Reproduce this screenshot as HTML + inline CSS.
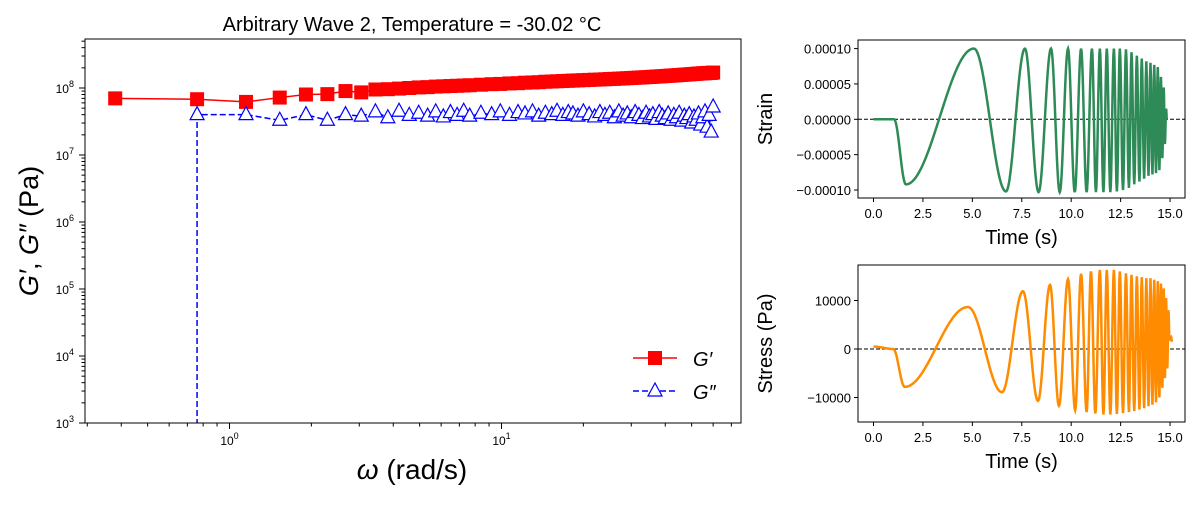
<!DOCTYPE html>
<html><head><meta charset="utf-8"><style>
body{margin:0;background:#fff}
svg text{font-family:"Liberation Sans","DejaVu Sans",sans-serif;fill:#000}
</style></head><body>
<svg id="svg" width="1200" height="500" xmlns="http://www.w3.org/2000/svg"></svg>
<script>
// ---- Main chart data ----
const omega=[0.38,0.76,1.15,1.53,1.91,2.29,2.67,3.05,3.44,3.82,4.2,4.58,4.96,5.35,5.73,6.11,6.49,6.87,7.26,7.64,8.4,9.2,9.9,10.7,11.5,12.2,13,13.7,14.5,15.3,16,16.8,17.6,18.3,19.1,20,21,22,23,24,25,26,27,28,29,30,31,32,33,34,35,36,37,38,39,40,41,42,43,44,45,46,47,48,49,50,51,52,53,54,55,56,57,58,59,60];
const gPrime=[7e7,6.8e7,6.2e7,7.2e7,8e7,8.1e7,9e7,8.6e7,9.5e7,9.6e7,9.8e7,1e8,1.02e8,1.03e8,1.05e8,1.06e8,1.07e8,1.08e8,1.09e8,1.1e8,1.12e8,1.14e8,1.15e8,1.17e8,1.18e8,1.2e8,1.21e8,1.22e8,1.24e8,1.25e8,1.26e8,1.27e8,1.28e8,1.29e8,1.3e8,1.31e8,1.32e8,1.33e8,1.34e8,1.35e8,1.36e8,1.37e8,1.38e8,1.39e8,1.4e8,1.41e8,1.42e8,1.43e8,1.44e8,1.45e8,1.46e8,1.47e8,1.48e8,1.49e8,1.5e8,1.51e8,1.52e8,1.53e8,1.54e8,1.55e8,1.56e8,1.57e8,1.58e8,1.59e8,1.6e8,1.61e8,1.62e8,1.63e8,1.64e8,1.65e8,1.66e8,1.66e8,1.67e8,1.68e8,1.68e8,1.7e8];
const gDouble=[-1e7,4e7,4e7,3.3e7,4e7,3.3e7,4e7,3.8e7,4.4e7,3.6e7,4.5e7,3.9e7,4.2e7,3.8e7,4.4e7,3.7e7,4.3e7,3.9e7,4.5e7,3.8e7,4.2e7,4e7,4.4e7,3.9e7,4.3e7,4.1e7,4.4e7,3.8e7,4.2e7,4e7,4.5e7,3.9e7,4.3e7,4.1e7,3.8e7,4.4e7,4e7,3.7e7,4.3e7,3.9e7,4.2e7,3.6e7,4.4e7,3.8e7,4.1e7,3.6e7,4.3e7,3.9e7,3.5e7,4.2e7,3.7e7,4e7,3.4e7,4.3e7,3.8e7,3.5e7,4.1e7,3.3e7,3.9e7,3.6e7,4.2e7,3.2e7,3.8e7,3.5e7,4e7,3e7,3.7e7,3.3e7,4.1e7,2.8e7,3.6e7,4.4e7,2.6e7,3.9e7,2.2e7,5.2e7];
const xTickExp=[0,1];
const yTickExp=[3,4,5,6,7,8];
// ---- Time series extrema ----
const strainT=[0,1.04,1.64,5.08,6.7,7.66,8.35,8.98,9.42,9.84,10.18,10.5,10.78,11.05,11.25,11.45,11.63,11.8,11.98,12.16,12.31,12.46,12.62,12.77,12.92,13.05,13.19,13.32,13.45,13.57,13.69,13.8,13.91,14.01,14.11,14.2,14.29,14.38,14.46,14.54,14.61,14.68,14.74,14.8,14.84];
const strainV=[0,0,-0.92e-4,1.0e-4,-1.02e-4,1.0e-4,-1.03e-4,1.0e-4,-1.03e-4,1.0e-4,-1.03e-4,1.0e-4,-1.03e-4,1.0e-4,-1.03e-4,1.0e-4,-1.03e-4,1.0e-4,-1.03e-4,1.0e-4,-1.02e-4,1.0e-4,-1.0e-4,0.99e-4,-0.97e-4,0.95e-4,-0.92e-4,0.9e-4,-0.88e-4,0.86e-4,-0.84e-4,0.82e-4,-0.8e-4,0.8e-4,-0.78e-4,0.77e-4,-0.76e-4,0.74e-4,-0.72e-4,0.6e-4,-0.55e-4,0.45e-4,-0.35e-4,0.15e-4,0];
const stressT=[0,1.0,1.58,4.78,6.5,7.56,8.32,8.93,9.38,9.84,10.2,10.5,10.78,11.0,11.22,11.45,11.63,11.8,11.98,12.16,12.31,12.46,12.62,12.77,12.92,13.05,13.19,13.32,13.45,13.57,13.69,13.8,13.91,14.01,14.11,14.2,14.29,14.38,14.46,14.54,14.61,14.68,14.74,14.8,14.86,14.92,14.97,15.05,15.1];
const stressV=[500,0,-7800,8650,-8900,11900,-10700,13200,-11700,14400,-12600,15500,-13000,16000,-13300,16300,-13500,16300,-13500,16300,-13400,16000,-13200,15600,-13000,15300,-12800,15000,-12500,14800,-12200,14600,-11800,14600,-11500,14300,-11000,14000,-10000,13500,-8000,12500,-6000,10500,-4000,8000,2000,2500,1500];
const timeTicks=[0,2.5,5,7.5,10,12.5,15];
const strainTicks=[0.0001,0.00005,0,-0.00005,-0.0001];
const stressTicks=[10000,0,-10000];

const svg=document.getElementById('svg');
const NS='http://www.w3.org/2000/svg';
function el(tag,attrs,parent){const e=document.createElementNS(NS,tag);for(const k in attrs)e.setAttribute(k,attrs[k]);(parent||svg).appendChild(e);return e;}

// ---- main axes ----
const M={l:85,r:741,t:39,b:423};
const xs=w=>229.5+272*Math.log10(w);
const ys=v=>423-67*(Math.log10(v)-3);
const gMain=el('g',{});


const clip=el('clipPath',{id:'cm'});el('rect',{x:M.l,y:M.t,width:M.r-M.l,height:M.b-M.t},clip);
const t1=el('text',{x:412,y:31,'font-size':20,'text-anchor':'middle'},gMain);t1.textContent='Arbitrary Wave 2, Temperature = -30.02 °C';

for(let e=-1;e<=1;e++)for(let m=1;m<10;m++){const v=m*Math.pow(10,e);const x=xs(v);if(x<M.l||x>M.r)continue;
 el('line',{x1:x,x2:x,y1:M.b,y2:M.b+(m==1?6:3.5),stroke:'#000','stroke-width':1},gMain);}
xTickExp.forEach(e=>{const t=el('text',{x:xs(Math.pow(10,e)),y:445,'font-size':12,'text-anchor':'middle'},gMain);
 
 t.innerHTML='10<tspan dy="-6" font-size="9">'+e+'</tspan>';});
for(let e=3;e<9;e++)for(let m=1;m<10;m++){const v=m*Math.pow(10,e);const y=ys(v);if(y<M.t)continue;
 el('line',{x1:M.l,x2:M.l-(m==1?6:3.5),y1:y,y2:y,stroke:'#000','stroke-width':1},gMain);}
yTickExp.forEach(e=>{const t=el('text',{x:74,y:ys(Math.pow(10,e))+5,'font-size':12,'text-anchor':'end'},gMain);
 
 t.innerHTML='10<tspan dy="-6" font-size="9">'+e+'</tspan>';});
const xl=el('text',{x:412,y:479,'font-size':28,'text-anchor':'middle'},gMain);xl.innerHTML='<tspan font-style="italic">ω</tspan> (rad/s)';

const yl=el('text',{x:0,y:0,'font-size':27,'text-anchor':'middle',transform:'translate(38,231) rotate(-90)'},gMain);
yl.innerHTML='<tspan font-style="italic">G′</tspan>, <tspan font-style="italic">G″</tspan> (Pa)';

const gs=el('g',{'clip-path':'url(#cm)'},gMain);
const p1=omega.map((w,i)=>xs(w)+','+ys(gPrime[i])).join(' ');
const l1=el('polyline',{points:p1,fill:'none',stroke:'#f00','stroke-width':1.5},gs);

// G'' line: non-positive values drop to the bottom (log clip)
let d2='';
omega.forEach((w,i)=>{const v=gDouble[i];
 if(v<=0){return;}
 const x=xs(w),y=ys(v);
 if(i==0||gDouble[i-1]<=0){d2+=`M${x},${M.b+20}L${x},${y}`;}else d2+=`L${x},${y}`;});
const l2=el('path',{d:d2,fill:'none',stroke:'#00f','stroke-width':1.5,'stroke-dasharray':'6,3'},gs);

omega.forEach((w,i)=>{const x=xs(w),y=ys(gPrime[i]);
 const r=el('rect',{x:x-7,y:y-7,width:14,height:14,fill:'#f00'},gs);
 });
omega.forEach((w,i)=>{if(gDouble[i]<=0)return;const x=xs(w),y=ys(gDouble[i]);
 const p=el('polygon',{points:`${x},${y-8} ${x-7},${y+5} ${x+7},${y+5}`,fill:'#fff',stroke:'#00f','stroke-width':1.2},gs);
 });
el('rect',{x:M.l,y:M.t,width:M.r-M.l,height:M.b-M.t,fill:'none',stroke:'#000','stroke-width':1},gMain);
const lg=el('g',{},gMain);
const le1=el('g',{},lg);
el('line',{x1:633,x2:677,y1:358,y2:358,stroke:'#f00','stroke-width':1.5},le1);
el('rect',{x:648,y:351,width:14,height:14,fill:'#f00'},le1);
const lt1=el('text',{x:693,y:366,'font-size':20,'font-style':'italic'},le1);lt1.textContent='G′';
const le2=el('g',{},lg);
el('line',{x1:633,x2:677,y1:391,y2:391,stroke:'#00f','stroke-width':1.5,'stroke-dasharray':'6,3'},le2);
el('polygon',{points:'655,383 648,396 662,396',fill:'#fff',stroke:'#00f','stroke-width':1.2},le2);
const lt2=el('text',{x:693,y:399,'font-size':20,'font-style':'italic'},le2);lt2.textContent='G″';

// ---- time series panels ----
function panel(name,box,ymap,ticks,fmt,T,V,color,ylab,cid){
 const g=el('g',{});
 const tx=t=>873.5+19.77*t;
 const c=el('clipPath',{id:cid});el('rect',{x:box.l,y:box.t,width:box.r-box.l,height:box.b-box.t},c);
 let pts=[];
 for(let i=0;i<T.length-1;i++){const n=Math.max(4,Math.round((T[i+1]-T[i])*40));
  for(let k=0;k<n;k++){const f=k/n;const e=(1-Math.cos(Math.PI*f))/2;
   pts.push(tx(T[i]+(T[i+1]-T[i])*f).toFixed(2)+','+ymap(V[i]+(V[i+1]-V[i])*e).toFixed(2));}}
 pts.push(tx(T[T.length-1])+','+ymap(V[V.length-1]));
 el('line',{x1:box.l,x2:box.r,y1:ymap(0),y2:ymap(0),stroke:'#000','stroke-width':1,'stroke-dasharray':'4,2'},g);
 const pl=el('polyline',{points:pts.join(' '),fill:'none',stroke:color,'stroke-width':2.5,'clip-path':`url(#${cid})`},g);
 
 el('rect',{x:box.l,y:box.t,width:box.r-box.l,height:box.b-box.t,fill:'none',stroke:'#000','stroke-width':1},g);
 timeTicks.forEach(t=>{const x=tx(t);el('line',{x1:x,x2:x,y1:box.b,y2:box.b+4,stroke:'#000'},g);
  const tt=el('text',{x:x,y:box.b+20,'font-size':13,'text-anchor':'middle'},g);tt.textContent=t.toFixed(1);
  });
 ticks.forEach(v=>{const y=ymap(v);el('line',{x1:box.l,x2:box.l-4,y1:y,y2:y,stroke:'#000'},g);
  const tt=el('text',{x:box.l-7,y:y+5,'font-size':13,'text-anchor':'end'},g);tt.textContent=fmt(v);
  });
 const xl=el('text',{x:(box.l+box.r)/2,y:box.b+46,'font-size':20,'text-anchor':'middle'},g);xl.textContent='Time (s)';
 
 const yl=el('text',{x:0,y:0,'font-size':20,'text-anchor':'middle',transform:`translate(772,${(box.t+box.b)/2}) rotate(-90)`},g);yl.textContent=ylab;
 
}
panel('strain-chart',{l:858,r:1185,t:40,b:198},v=>119.3-v*707000,strainTicks,v=>v.toFixed(5).replace('-','−'),strainT,strainV,'#2e8b57','Strain','cs1');
panel('stress-chart',{l:858,r:1185,t:265,b:422},v=>349-v*0.00485,stressTicks,v=>String(v).replace('-','−'),stressT,stressV,'#ff8c00','Stress (Pa)','cs2');
</script>
</body></html>
